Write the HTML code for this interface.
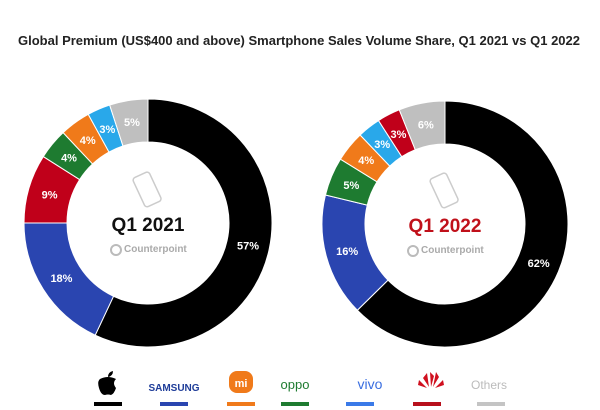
<!DOCTYPE html>
<html><head><meta charset="utf-8"><style>
body{margin:0;background:#fff;}
svg{display:block;font-family:"Liberation Sans",sans-serif;}
</style></head><body>
<svg id="chart" width="600" height="410" viewBox="0 0 600 410">
<text x="18" y="45" font-size="12.5" font-weight="bold" fill="#222" textLength="562" lengthAdjust="spacingAndGlyphs">Global Premium (US$400 and above) Smartphone Sales Volume Share, Q1 2021 vs Q1 2022</text>
<g id="d1"></g><g id="d2"></g>
<g>
<path d="M100 379 q8 -4 16 0 q-4 4 0 9 q-2 6 -5 7 q-3 -1 -6 0 q-4 0 -6 -7 q-2 -7 1 -9z M108 377 q0 -5 5 -6 q0 5 -5 6z" fill="#000"/>
<text x="174" y="391" font-size="10" font-weight="bold" fill="#1f3d99" text-anchor="middle">SAMSUNG</text>
<rect x="229" y="371" width="24" height="22" rx="8" fill="#f07a1a"/>
<text x="241" y="387" font-size="11" font-weight="bold" fill="#fff" text-anchor="middle">mi</text>
<text x="295" y="389" font-size="13" fill="#1e7b30" text-anchor="middle">oppo</text>
<text x="370" y="389" font-size="14" fill="#3a6ee0" text-anchor="middle">vivo</text>
<path d="M429 387 l-6 -9 l4 -5 z M431 387 l-1 -15 l4 4 z M433 387 l3 -15 l3 5z M435 388 l8 -8 l1 5z M427 388 l-8 -8 l-1 5z" fill="#d0101f"/>
<text x="489" y="389" font-size="12" fill="#bbb" text-anchor="middle">Others</text>
<rect x="94" y="402" width="28" height="4" fill="#000"/>
<rect x="160" y="402" width="28" height="4" fill="#2a45b0"/>
<rect x="227" y="402" width="28" height="4" fill="#f07a1a"/>
<rect x="281" y="402" width="28" height="4" fill="#1e7b30"/>
<rect x="346" y="402" width="28" height="4" fill="#3a7ae8"/>
<rect x="413" y="402" width="28" height="4" fill="#b8101c"/>
<rect x="477" y="402" width="28" height="4" fill="#c4c4c4"/>
</g>
</svg>
<script>
const brands2021 = ["Apple","Samsung","Huawei","Oppo","Xiaomi","Vivo","Others"];
const values2021 = [57,18,9,4,4,3,5];
const brands2022 = ["Apple","Samsung","Oppo","Xiaomi","Vivo","Huawei","Others"];
const values2022 = [62,16,5,4,3,3,6];
const colors = {Apple:"#000000",Samsung:"#2a45b0",Huawei:"#c0001a",Oppo:"#1e7b30",Xiaomi:"#f07a1a",Vivo:"#29a8ea",Others:"#bfbfbf"};
const NS="http://www.w3.org/2000/svg";
function mk(t,a){const e=document.createElementNS(NS,t);for(const k in a)e.setAttribute(k,a[k]);return e;}
function donut(g,cx,cy,ro,ri,brands,vals,label,labelColor,year){
  const tot=vals.reduce((a,b)=>a+b,0);let acc=0;
  const pt=(ang,r)=>[cx+r*Math.sin(ang),cy-r*Math.cos(ang)];
  vals.forEach((v,i)=>{
    const a0=acc/tot*2*Math.PI;acc+=v;const a1=acc/tot*2*Math.PI;
    const lg=(a1-a0)>Math.PI?1:0;
    const [x0,y0]=pt(a0,ro),[x1,y1]=pt(a1,ro),[x2,y2]=pt(a1,ri),[x3,y3]=pt(a0,ri);
    const p=mk("path",{d:`M${x0} ${y0}A${ro} ${ro} 0 ${lg} 1 ${x1} ${y1}L${x2} ${y2}A${ri} ${ri} 0 ${lg} 0 ${x3} ${y3}Z`,fill:colors[brands[i]],stroke:"#fff","stroke-width":"1"});
    
    
    g.appendChild(p);
    const am=(a0+a1)/2;const [lx,ly]=pt(am,(ro+ri)/2);
    const t=mk("text",{x:lx,y:ly+4,"font-size":"11","font-weight":"bold",fill:"#fff","text-anchor":"middle"});
    t.textContent=v+"%";
    
    
    g.appendChild(t);
  });
  const ph=mk("rect",{x:cx-10,y:cy-50,width:18,height:32,rx:3,fill:"none",stroke:"#ccc","stroke-width":"1.5",transform:`rotate(-25 ${cx} ${cy-34})`});
  
  
  g.appendChild(ph);
  const c=mk("text",{x:cx,y:cy+8,"font-size":"19","font-weight":"bold",fill:labelColor,"text-anchor":"middle"});
  c.textContent=label;
  
  
  g.appendChild(c);
  const ci=mk("circle",{cx:cx-32,cy:cy+27,r:5,fill:"none",stroke:"#bbb","stroke-width":"2"});
  
  
  g.appendChild(ci);
  const w=mk("text",{x:cx-24,y:cy+29,"font-size":"10","font-weight":"bold",fill:"#aaa"});
  w.textContent="Counterpoint";
  
  
  g.appendChild(w);
}
donut(document.getElementById("d1"),148,223,124,81,brands2021,values2021,"Q1 2021","#111","2021");
donut(document.getElementById("d2"),445,224,123,80,brands2022,values2022,"Q1 2022","#c0101a","2022");
</script>
</body></html>
